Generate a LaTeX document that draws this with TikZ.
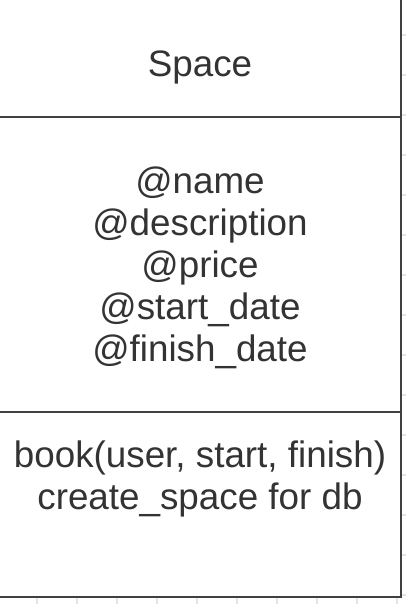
\documentclass[tikz,border=0pt]{standalone}
\usepackage{fontspec}
\setmainfont{Liberation Sans}
\usepackage{xcolor}
\definecolor{umlline}{RGB}{64,64,64}
\definecolor{umltext}{RGB}{51,51,51}
\definecolor{gridgray}{RGB}{228,228,228}

\begin{document}
\begin{tikzpicture}[x=1pt, y=-1pt,
    umltxt/.style={text=umltext, align=center, inner sep=0pt,
        font=\fontsize{36.8}{42}\selectfont}]
    \useasboundingbox (0,0) rectangle (406,604);
    \clip (0,0) rectangle (406,604);

    % Faint grid behind the class box
    \foreach \gx in {37,77,...,397}
        \draw[gridgray, line width=1.5pt] (\gx,598) -- (\gx,604);
    \foreach \gy in {35,75,...,595}
        \draw[gridgray, line width=1.5pt] (401,\gy) -- (406,\gy);

    % Class box
    \draw[umlline, line width=2pt, fill=white] (-3,-3) rectangle (400.5,597);
    \draw[umlline, line width=2pt] (-3,117) -- (400.5,117);
    \draw[umlline, line width=2pt] (-3,412) -- (400.5,412);

    % Compartments
    \node[umltxt] (title) at (200,67.5) {Space};
    \node[umltxt] (attrs) at (200,267.5) {@name\\@description\\@price\\@start\_date\\@finish\_date};
    \node[umltxt] (ops) at (200,478.5) {book(user, start, finish)\\create\_space for db};
\end{tikzpicture}
\end{document}
